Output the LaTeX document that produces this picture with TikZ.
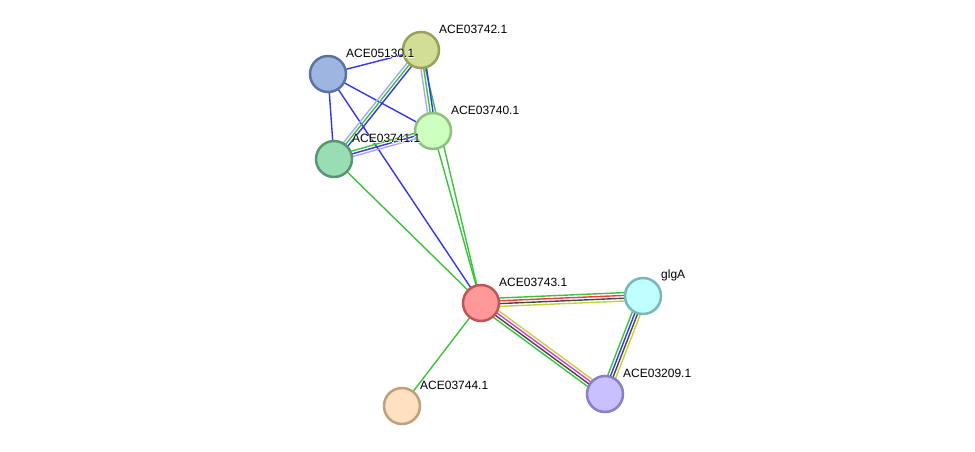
\documentclass[tikz,border=0pt]{standalone}
\usepackage{fontspec}
\setmainfont{Liberation Sans}
\newfontfamily\halofont[FakeBold=5]{Liberation Sans}
\usetikzlibrary{calc}
\pgfdeclarelayer{bg}
\pgfsetlayers{bg,main}
\definecolor{eg}{HTML}{3CC23C}
\definecolor{eb}{HTML}{3535F0}
\definecolor{elb}{HTML}{A8A8F5}
\definecolor{er}{HTML}{F03C3C}
\definecolor{ek}{HTML}{484848}
\definecolor{ey}{HTML}{C4D23A}
\definecolor{em}{HTML}{D83CD8}
\tikzset{
  prot/.style={circle, minimum size=36pt, inner sep=0pt, line width=2.5pt},
  lab/.style={anchor=west, inner sep=0pt, font=\fontsize{12}{14}\selectfont, text=black},
  halo/.style={anchor=west, inner sep=0pt, font=\halofont\fontsize{12}{14}\selectfont, text=white},
  edge/.style={line width=1.4pt},
}
\newcommand\medge[3]{%
  \foreach \ecol [count=\ei] in {#3} {\xdef\medgeN{\ei}}%
  \foreach \ecol [count=\ei] in {#3} {%
    \pgfmathsetmacro\eoff{(\ei-(\medgeN+1)/2)*2.8}%
    \draw[edge,draw=\ecol] ($(#1)!\eoff pt!90:(#2)$) -- ($(#2)!\eoff pt!-90:(#1)$);
  }%
}
\newcommand\plabel[3]{%
  \node[halo] (h#1) at ($(#2)+(18,-20.5)$) {#3};
  \node[lab] (#1) at ($(#2)+(18,-20.5)$) {#3};
}
\begin{document}
\begin{tikzpicture}[x=1pt,y=-1pt]
\useasboundingbox (0,0) rectangle (975,452);
\node[prot, fill={rgb,255:red,157;green,181;blue,224}, draw={rgb,255:red,90;green,116;blue,160}] (n05130) at (328,74) {};
\node[prot, fill={rgb,255:red,210;green,221;blue,150}, draw={rgb,255:red,154;green,160;blue,90}] (n03742) at (421,50) {};
\node[prot, fill={rgb,255:red,204;green,255;blue,192}, draw={rgb,255:red,143;green,192;blue,126}] (n03740) at (433,131) {};
\node[prot, fill={rgb,255:red,153;green,221;blue,181}, draw={rgb,255:red,90;green,148;blue,112}] (n03741) at (334,159) {};
\node[prot, fill={rgb,255:red,255;green,153;blue,153}, draw={rgb,255:red,192;green,85;blue,85}] (n03743) at (481,303) {};
\node[prot, fill={rgb,255:red,192;green,255;blue,255}, draw={rgb,255:red,122;green,184;blue,184}] (nglgA) at (643,296) {};
\node[prot, fill={rgb,255:red,201;green,192;blue,255}, draw={rgb,255:red,138;green,126;blue,198}] (n03209) at (605,394) {};
\node[prot, fill={rgb,255:red,255;green,224;blue,192}, draw={rgb,255:red,191;green,160;blue,122}] (n03744) at (402,406) {};
\begin{pgfonlayer}{bg}
\medge{n05130}{n03742}{eb}
\medge{n05130}{n03740}{eb}
\medge{n05130}{n03741}{eb}
\medge{n05130}{n03743}{eb}
\medge{n03742}{n03743}{eg}
\medge{n03740}{n03743}{eg}
\medge{n03741}{n03743}{eg}
\medge{n03743}{n03744}{eg}
\medge{n03742}{n03741}{elb,eg,eb}
\medge{n03742}{n03740}{elb,eg,eb}
\medge{n03741}{n03740}{elb,eb,eg}
\medge{n03743}{nglgA}{ey,ek,er,eg}
\medge{n03743}{n03209}{eg,ek,em,ey}
\medge{nglgA}{n03209}{eg,eb,ek,ey}
\end{pgfonlayer}
\plabel{l05130}{n05130}{ACE05130.1}
\plabel{l03742}{n03742}{ACE03742.1}
\plabel{l03740}{n03740}{ACE03740.1}
\plabel{l03741}{n03741}{ACE03741.1}
\plabel{l03743}{n03743}{ACE03743.1}
\plabel{lglgA}{nglgA}{glgA}
\plabel{l03209}{n03209}{ACE03209.1}
\plabel{l03744}{n03744}{ACE03744.1}
\end{tikzpicture}
\end{document}
